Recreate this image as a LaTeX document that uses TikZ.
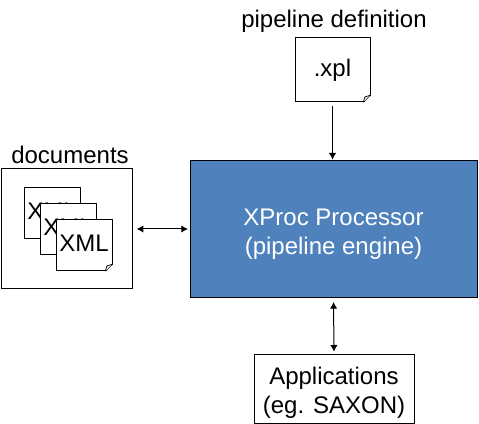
\documentclass[tikz,border=0pt]{standalone}
\usepackage{fontspec}
\setmainfont{Liberation Sans}
\usepackage{xcolor}
\usepackage{tikz}
\usetikzlibrary{arrows.meta, calc}
\definecolor{enginefill}{HTML}{4F81BD}
\tikzset{
  guidebox/.style={
    draw, line width=0.75pt, align=center, inner sep=0pt, outer sep=0pt,
    font=\fontsize{18}{21.7}\selectfont, fill=white
  },
  guidedoc/.style={
    guidebox, minimum width=42pt, minimum height=38.25pt,
    text height=12.9pt, text depth=3.8pt
  },
  guidefold/.style={
    line width=0.5pt, fill=gray!20
  },
  guidearrow/.style={
    -{Latex[length=5pt,width=5.5pt]}, line width=0.75pt
  },
  guidearrows/.style={
    {Latex[length=5pt,width=5.5pt]}-{Latex[length=5pt,width=5.5pt]}, line width=0.75pt
  },
  guidelabel/.style={
    font=\fontsize{18}{21.7}\selectfont, inner sep=0pt
  },
}

\begin{document}
\begin{tikzpicture}[x=0.75pt, y=-0.75pt]
  \useasboundingbox (0,0) rectangle (479,424);

  % Processor
  \node[guidebox, fill=enginefill, text=white, minimum width=215.25pt, minimum height=102.75pt,
    text height=43pt, text depth=5pt]
    (engine) at (333.5,229.5) {
    XProc Processor\\
    (pipeline engine)
  };

  % Pipeline definition
  \node[guidelabel] (pipelabel) at (334,21) {pipeline definition};
  \node[guidebox, minimum width=56.25pt, minimum height=48pt] (xpl) at (332.5,70) {.xpl};

  % Documents
  \node[guidelabel] (doclabel) at (70,155) {documents};
  \node[guidebox, minimum width=98.25pt, minimum height=90pt] (docs) at (66.5,229) {};
  \node[guidedoc] (doc1) at (52,213.5) {XML};
  \node[guidedoc] (doc2) at (68,229.5) {XML};
  \node[guidedoc] (doc3) at (84,245.5) {XML};

  % Folded corners
  \foreach \note in {xpl,doc3} {
    \fill[white] ($(\note.south east)+(-5pt,-1pt)$) -- ($(\note.south east)+(1pt,-1pt)$)
      -- ($(\note.south east)+(1pt,5pt)$) -- cycle;
    \draw[line width=0.75pt] ($(\note.south east)+(-5pt,0)$) -- ($(\note.south east)+(0,5pt)$);
    \draw[guidefold] ($(\note.south east)+(-5pt,0)$) -- ($(\note.south east)+(-3.8pt,3.8pt)$)
      -- ($(\note.south east)+(0,5pt)$);
  }

  % Applications
  \node[guidebox, minimum width=120pt, minimum height=51pt,
    text height=41pt, text depth=5pt] (apps) at (334,389) {
    Applications\\
    (eg. SAXON)
  };

  % Arrows
  \draw[guidearrow, shorten <=3pt, shorten >=1pt] (xpl.south) -- (xpl.south |- engine.north);
  \draw[guidearrows, shorten <=3.5pt, shorten >=1.5pt] (docs.east) -- (docs.east -| engine.west);
  \draw[guidearrows, shorten <=3pt, shorten >=2.5pt] (engine.south) -- (apps.north);
\end{tikzpicture}
\end{document}
